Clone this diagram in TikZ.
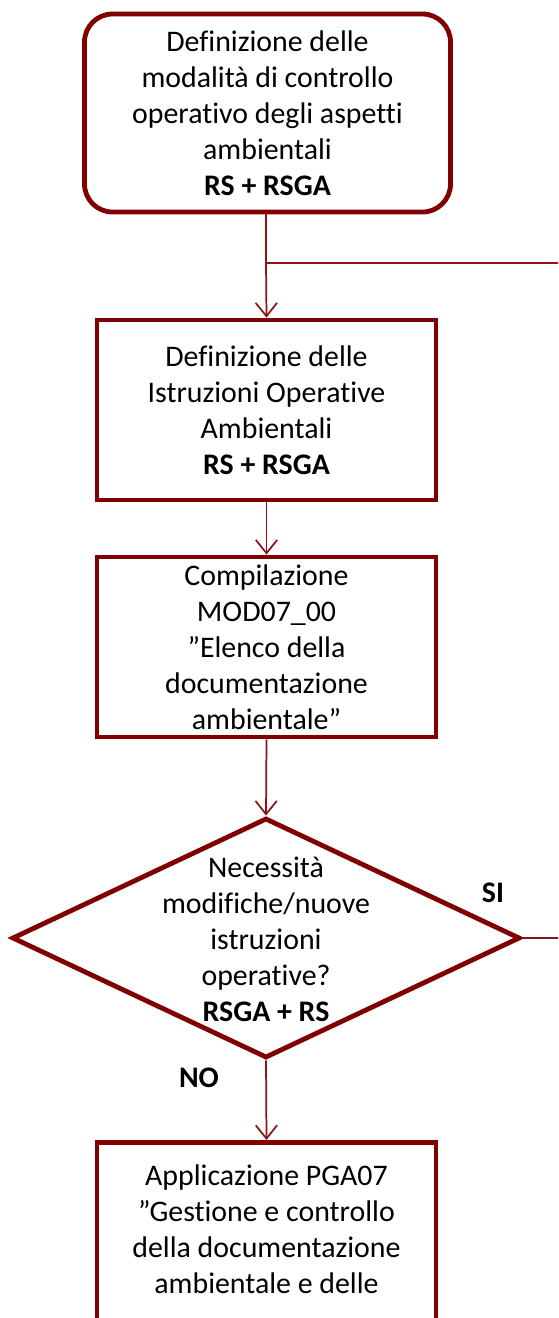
\documentclass[tikz,border=0pt]{standalone}
\usepackage{fontspec}
\setmainfont{Carlito}[Ligatures=NoCommon]
\usetikzlibrary{arrows.meta,shapes.geometric}
\definecolor{boxred}{RGB}{128,0,0}
\definecolor{linered}{RGB}{140,20,20}
\newcommand{\dq}{\symbol{"22}}
\tikzset{
  procbox/.style={draw=boxred,line width=3.6pt,fill=white,minimum width=339*0.75pt,inner sep=0pt,align=center,font=\fontsize{22.4}{27}\selectfont},
  startbox/.style={procbox,rounded corners=21pt,minimum width=366*0.75pt,minimum height=198*0.75pt},
  decbox/.style={draw=boxred,line width=3.6pt,fill=white,diamond,aspect=2.1,inner sep=0pt,minimum width=508*0.75pt,minimum height=240*0.75pt,align=center,font=\fontsize{22.4}{27}\selectfont},
  conn/.style={draw=linered,line width=1.3pt},
  arr/.style={conn,-{Straight Barb[length=10pt,width=16pt,line width=1.3pt]}},
  lbl/.style={font=\fontsize{22.4}{27}\selectfont\bfseries},
  plain/.style={font=\fontsize{22.4}{27}\selectfont,align=center}
}
\begin{document}
\begin{tikzpicture}[x=0.75pt,y=-0.75pt]
\useasboundingbox (0,0) rectangle (558,1318);
\clip (0,0) rectangle (558,1318);
\node[startbox] (a) at (267.5,113) {Definizione delle\\modalità di controllo\\operativo degli aspetti\\ambientali\\\textbf{RS + RSGA}};
\node[procbox,minimum height=180*0.75pt] (b) at (266.5,410) {Definizione delle\\Istruzioni Operative\\Ambientali\\\textbf{RS + RSGA}};
\node[procbox,minimum height=180*0.75pt] (c) at (266.5,647) {Compilazione\\MOD07\_00\\\dq Elenco della\\documentazione\\ambientale\dq};
\node[decbox] (d) at (266,938) {};
\node[plain] (dt) at (266,939) {Necessità\\modifiche/nuove\\istruzioni\\operative?\\\textbf{RSGA + RS}};
\node[procbox,minimum height=260*0.75pt,anchor=north] (e) at (266.5,1140) {};
\node[plain,anchor=north] (et) at (266.5,1160) {Applicazione PGA07\\\dq Gestione e controllo\\della documentazione\\ambientale e delle};
\coordinate (j) at (266,263);
\coordinate (r1) at (560,263);
\coordinate (r2) at (560,938);
\draw[conn] (a.south -| j) -- (j);
\draw[arr] (j) -- (b.north);
\draw[conn] (j) -- (r1);
\draw[arr] (b.south) -- (c.north);
\draw[arr] (c.south) -- (d.north);
\draw[conn] (d.east) -- (r2);
\draw[arr] (d.south) -- (e.north);
\node[lbl] (si) at (493,893) {SI};
\node[lbl] (no) at (199,1078) {NO};
\end{tikzpicture}
\end{document}
